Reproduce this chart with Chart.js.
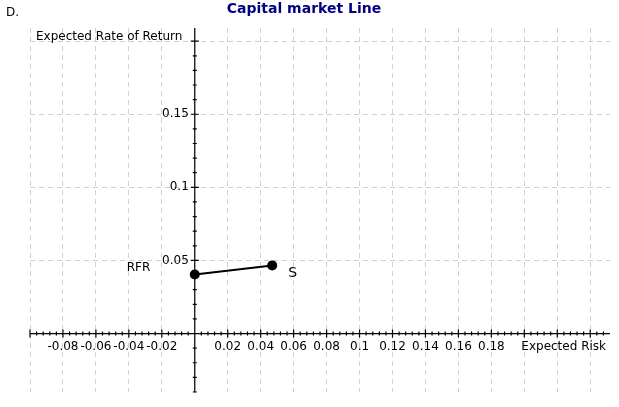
<!DOCTYPE html>
<html>
<head>
<script src="https://cdn.jsdelivr.net/npm/chart.js@4/dist/chart.umd.min.js"></script>
<style>body{margin:0;background:#fff}</style>
</head>
<body>
<canvas id="c" width="619" height="407"></canvas>
<script>
const riskValues = [0, 0.047];
const returnValues = [0.0404, 0.0466];
const pointLabels = ["RFR", "S"];
const xTickLabels = [-0.08, -0.06, -0.04, -0.02, 0.02, 0.04, 0.06, 0.08, 0.1, 0.12, 0.14, 0.16, 0.18];
const yTickLabels = [0.05, 0.1, 0.15];
const xGrid = [-0.1, -0.08, -0.06, -0.04, -0.02, 0, 0.02, 0.04, 0.06, 0.08, 0.1, 0.12, 0.14, 0.16, 0.18, 0.2, 0.22, 0.24];
const yGrid = [0, 0.05, 0.1, 0.15, 0.2];

const FONT = "12px 'DejaVu Sans'";

const axesPlugin = {
  id: "axes",
  afterDatasetsDraw(chart) {
    const c = chart.ctx, xs = chart.scales.x, ys = chart.scales.y, a = chart.chartArea;
    const ox = xs.getPixelForValue(0), oy = ys.getPixelForValue(0);
    c.save();
    c.strokeStyle = "#000"; c.lineWidth = 1.2;
    c.beginPath();
    c.moveTo(a.left, oy); c.lineTo(a.right, oy);
    c.moveTo(ox, a.top); c.lineTo(ox, a.bottom);
    // minor ticks
    for (let v = -0.1; v <= 0.252; v += 0.004) {
      const p = xs.getPixelForValue(v);
      const major = Math.abs(Math.round(v / 0.02) * 0.02 - v) < 1e-6;
      c.moveTo(p, oy - (major ? 4 : 2)); c.lineTo(p, oy + (major ? 4 : 2));
    }
    for (let v = -0.04; v <= 0.209; v += 0.01) {
      const p = ys.getPixelForValue(v);
      const major = Math.abs(Math.round(v / 0.05) * 0.05 - v) < 1e-6;
      c.moveTo(ox - (major ? 4 : 2), p); c.lineTo(ox + (major ? 4 : 2), p);
    }
    c.stroke();
    c.fillStyle = "#000"; c.font = FONT;
    c.textAlign = "center"; c.textBaseline = "top";
    xTickLabels.forEach(v => c.fillText(String(v), xs.getPixelForValue(v), oy + 7));
    c.textAlign = "right"; c.textBaseline = "middle";
    yTickLabels.forEach(v => c.fillText(String(v), ox - 6, ys.getPixelForValue(v)));
    c.textAlign = "right"; c.textBaseline = "middle";
    c.fillText("Expected Risk", 606, oy + 13);
    c.textAlign = "left";
    c.fillText("Expected Rate of Return", 36, 37);
    // point labels
    c.fillText(pointLabels[0], xs.getPixelForValue(riskValues[0]) - 68, ys.getPixelForValue(returnValues[0]) - 7);
    c.font = "14px 'DejaVu Sans'";
    c.fillText(pointLabels[1], xs.getPixelForValue(riskValues[1]) + 16, ys.getPixelForValue(returnValues[1]) + 8);
    // titles
    c.font = "bold 14px 'DejaVu Sans'"; c.fillStyle = "#000080"; c.textAlign = "center";
    c.fillText("Capital market Line", 304, 9);
    c.font = FONT; c.fillStyle = "#000"; c.textAlign = "left";
    c.fillText("D.", 6, 13);
    c.restore();
  }
};

new Chart(document.getElementById("c"), {
  type: "scatter",
  data: {
    datasets: [{
      data: riskValues.map((x, i) => ({ x: x, y: returnValues[i] })),
      showLine: true,
      borderColor: "#000",
      backgroundColor: "#000",
      borderWidth: 2,
      pointRadius: 4,
      clip: false
    }]
  },
  options: {
    responsive: false,
    animation: false,
    layout: { padding: { left: 30, right: 9, top: 28, bottom: 15 } },
    plugins: { legend: { display: false }, tooltip: { enabled: false } },
    scales: {
      x: {
        type: "linear", min: -0.1, max: 0.252,
        afterBuildTicks: s => { s.ticks = xGrid.map(v => ({ value: v })); },
        ticks: { display: false },
        border: { display: false },
        grid: { color: "#d0d0d0", drawTicks: false, tickLength: 0 },
        border: { display: false, dash: [5, 4] }
      },
      y: {
        type: "linear", min: -0.04, max: 0.209,
        afterBuildTicks: s => { s.ticks = yGrid.map(v => ({ value: v })); },
        ticks: { display: false },
        grid: { color: "#d0d0d0", drawTicks: false, tickLength: 0 },
        border: { display: false, dash: [5, 4] }
      }
    }
  },
  plugins: [axesPlugin]
});
</script>
</body>
</html>
